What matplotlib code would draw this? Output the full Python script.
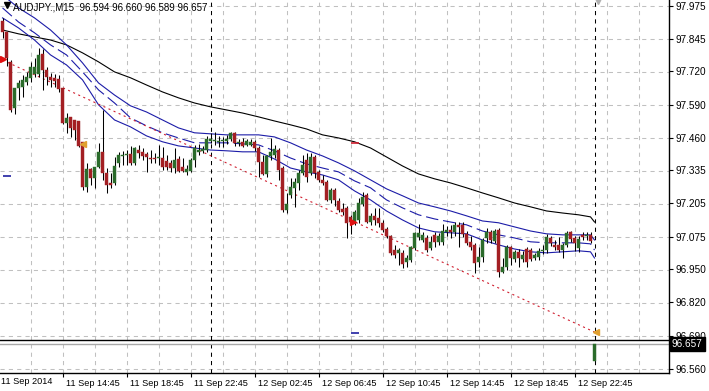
import matplotlib
matplotlib.use("Agg")
import matplotlib.pyplot as plt
import matplotlib.transforms as mtrans
import numpy as np

plt.rcParams['lines.scale_dashes'] = False
plt.rcParams['font.family'] = ['Liberation Sans', 'DejaVu Sans']

symbol = "AUDJPY.,M15"

opens = [97.915, 97.873, 97.756, 97.577, 97.655, 97.659, 97.678, 97.694, 97.709, 97.709,
         97.787, 97.725, 97.697, 97.694, 97.690, 97.655, 97.519, 97.542, 97.530, 97.526,
         97.445, 97.270, 97.340, 97.305, 97.347, 97.406, 97.324, 97.285, 97.285, 97.363,
         97.390, 97.394, 97.398, 97.363, 97.413, 97.406, 97.398, 97.382, 97.382, 97.382,
         97.382, 97.371, 97.363, 97.343, 97.378, 97.347, 97.328, 97.332, 97.375, 97.406,
         97.410, 97.413, 97.448, 97.448, 97.445, 97.448, 97.448, 97.456, 97.480, 97.441,
         97.445, 97.433, 97.433, 97.445, 97.421, 97.367, 97.320, 97.390, 97.394, 97.413,
         97.343, 97.180, 97.238, 97.266, 97.285, 97.324, 97.375, 97.324, 97.386, 97.328,
         97.297, 97.289, 97.219, 97.258, 97.215, 97.184, 97.188, 97.153, 97.133, 97.141,
         97.203, 97.238, 97.133, 97.157, 97.149, 97.129, 97.106, 97.079, 97.024, 97.013,
         97.013, 96.978, 96.985, 97.032, 97.075, 97.063, 97.071, 97.032, 97.083, 97.056,
         97.056, 97.095, 97.102, 97.095, 97.122, 97.122, 97.087, 97.056, 97.044, 96.978,
         96.997, 97.071, 97.095, 97.060, 97.102, 96.939, 96.958, 97.036, 96.989, 97.017,
         96.989, 97.028, 97.024, 96.993, 96.997, 97.021, 97.024, 97.071, 97.044, 97.044,
         97.024, 97.044, 97.095, 97.071, 97.032, 97.083, 97.079, 97.083, 96.594]
highs = [97.927, 97.873, 97.764, 97.655, 97.686, 97.705, 97.717, 97.756, 97.771, 97.810,
         97.806, 97.736, 97.713, 97.709, 97.705, 97.655, 97.557, 97.542, 97.530, 97.526,
         97.445, 97.363, 97.344, 97.347, 97.441, 97.569, 97.344, 97.324, 97.386, 97.406,
         97.410, 97.413, 97.429, 97.425, 97.433, 97.421, 97.406, 97.413, 97.402, 97.433,
         97.425, 97.394, 97.375, 97.421, 97.390, 97.382, 97.355, 97.382, 97.433, 97.437,
         97.429, 97.468, 97.480, 97.484, 97.468, 97.464, 97.472, 97.484, 97.484, 97.456,
         97.460, 97.456, 97.456, 97.452, 97.429, 97.394, 97.394, 97.460, 97.433, 97.421,
         97.351, 97.246, 97.305, 97.305, 97.336, 97.394, 97.402, 97.402, 97.394, 97.336,
         97.316, 97.297, 97.266, 97.266, 97.227, 97.207, 97.196, 97.161, 97.180, 97.227,
         97.250, 97.246, 97.168, 97.188, 97.188, 97.141, 97.114, 97.083, 97.044, 97.032,
         97.024, 97.005, 97.040, 97.094, 97.126, 97.094, 97.083, 97.079, 97.094, 97.091,
         97.126, 97.118, 97.122, 97.133, 97.133, 97.133, 97.098, 97.079, 97.052, 97.036,
         97.071, 97.110, 97.102, 97.106, 97.110, 96.993, 97.044, 97.040, 97.024, 97.028,
         97.021, 97.036, 97.032, 97.013, 97.032, 97.044, 97.087, 97.079, 97.063, 97.075,
         97.052, 97.098, 97.098, 97.079, 97.079, 97.094, 97.094, 97.094, 96.660]
lows = [97.849, 97.740, 97.561, 97.554, 97.608, 97.620, 97.666, 97.678, 97.697, 97.697,
        97.647, 97.666, 97.659, 97.659, 97.639, 97.515, 97.480, 97.464, 97.452, 97.425,
        97.258, 97.250, 97.277, 97.266, 97.344, 97.297, 97.246, 97.266, 97.277, 97.347,
        97.355, 97.355, 97.355, 97.355, 97.382, 97.374, 97.328, 97.363, 97.363, 97.355,
        97.336, 97.336, 97.328, 97.324, 97.328, 97.328, 97.316, 97.328, 97.347, 97.394,
        97.402, 97.406, 97.441, 97.433, 97.425, 97.425, 97.437, 97.448, 97.429, 97.429,
        97.425, 97.429, 97.429, 97.410, 97.308, 97.316, 97.308, 97.375, 97.382, 97.297,
        97.172, 97.168, 97.227, 97.192, 97.258, 97.316, 97.289, 97.316, 97.305, 97.289,
        97.277, 97.215, 97.207, 97.196, 97.172, 97.161, 97.071, 97.087, 97.122, 97.130,
        97.196, 97.130, 97.122, 97.122, 97.114, 97.094, 97.071, 97.005, 96.993, 96.966,
        96.954, 96.958, 96.978, 97.024, 97.063, 97.056, 97.017, 97.024, 97.036, 97.044,
        97.044, 97.079, 97.071, 97.079, 97.036, 97.075, 97.044, 97.024, 96.935, 96.958,
        96.978, 97.052, 97.052, 97.052, 96.919, 96.935, 96.947, 96.966, 96.978, 96.958,
        96.978, 96.958, 96.982, 96.985, 96.985, 97.009, 97.013, 97.040, 97.024, 97.017,
        96.993, 97.036, 97.056, 97.021, 97.017, 97.063, 97.063, 97.052, 96.589]
closes = [97.873, 97.771, 97.569, 97.655, 97.674, 97.686, 97.697, 97.736, 97.736, 97.783,
          97.725, 97.697, 97.686, 97.682, 97.651, 97.519, 97.538, 97.499, 97.491, 97.429,
          97.270, 97.340, 97.305, 97.347, 97.406, 97.324, 97.277, 97.277, 97.351, 97.394,
          97.394, 97.398, 97.363, 97.421, 97.402, 97.390, 97.386, 97.378, 97.378, 97.386,
          97.347, 97.347, 97.343, 97.375, 97.332, 97.332, 97.340, 97.375, 97.421, 97.413,
          97.417, 97.456, 97.456, 97.452, 97.448, 97.452, 97.456, 97.480, 97.441, 97.445,
          97.429, 97.448, 97.445, 97.421, 97.367, 97.320, 97.390, 97.406, 97.417, 97.336,
          97.180, 97.203, 97.270, 97.289, 97.324, 97.355, 97.308, 97.386, 97.324, 97.297,
          97.285, 97.219, 97.258, 97.219, 97.180, 97.172, 97.129, 97.133, 97.172, 97.207,
          97.231, 97.133, 97.157, 97.141, 97.129, 97.102, 97.079, 97.013, 97.005, 97.024,
          96.970, 96.993, 97.036, 97.091, 97.091, 97.083, 97.024, 97.056, 97.056, 97.079,
          97.098, 97.102, 97.095, 97.122, 97.114, 97.087, 97.052, 97.036, 96.974, 96.997,
          97.063, 97.095, 97.063, 97.098, 96.939, 96.958, 97.036, 96.993, 97.017, 96.993,
          97.005, 96.978, 96.989, 97.005, 97.021, 97.024, 97.075, 97.052, 97.036, 97.024,
          97.044, 97.091, 97.067, 97.052, 97.067, 97.075, 97.083, 97.060, 96.657]

# indicator lines sampled at bar indices
line_bars = [0, 4, 8, 12, 16, 20, 24, 28, 32, 36, 40, 44, 48, 52, 56, 60, 64, 68, 72, 76,
             80, 84, 88, 92, 96, 100, 104, 108, 112, 116, 120, 124, 128, 132, 136, 140, 144, 147, 148]
ma_black = [97.880, 97.865, 97.853, 97.841, 97.822, 97.791, 97.756, 97.717, 97.694, 97.666,
            97.639, 97.616, 97.596, 97.581, 97.569, 97.557, 97.542, 97.526, 97.511, 97.495,
            97.472, 97.460, 97.445, 97.421, 97.386, 97.351, 97.320, 97.301, 97.285, 97.266,
            97.246, 97.227, 97.207, 97.192, 97.176, 97.168, 97.161, 97.153, 97.133]
band_upper = [98.016, 97.966, 97.927, 97.880, 97.822, 97.752, 97.674, 97.627, 97.585, 97.561,
              97.530, 97.499, 97.480, 97.476, 97.472, 97.472, 97.472, 97.464, 97.441, 97.413,
              97.390, 97.363, 97.332, 97.297, 97.262, 97.235, 97.207, 97.192, 97.176, 97.157,
              97.137, 97.130, 97.114, 97.098, 97.087, 97.083, 97.083, 97.083, 97.063]
band_mid = [97.966, 97.911, 97.869, 97.822, 97.783, 97.717, 97.647, 97.596, 97.538, 97.507,
            97.480, 97.460, 97.441, 97.441, 97.441, 97.437, 97.433, 97.410, 97.382, 97.359,
            97.343, 97.328, 97.293, 97.266, 97.219, 97.188, 97.161, 97.145, 97.133, 97.122,
            97.098, 97.083, 97.071, 97.056, 97.052, 97.052, 97.052, 97.048, 97.024]
band_lower = [97.927, 97.888, 97.841, 97.783, 97.744, 97.686, 97.589, 97.530, 97.503, 97.468,
              97.445, 97.429, 97.421, 97.413, 97.410, 97.406, 97.406, 97.378, 97.343, 97.328,
              97.316, 97.297, 97.254, 97.219, 97.176, 97.141, 97.110, 97.095, 97.091, 97.087,
              97.063, 97.044, 97.028, 97.017, 97.013, 97.017, 97.021, 97.017, 96.993]

# trend line (bar, price)
trend_bars = [0, 148]
trend_prices = [97.763, 96.705]

# markers
red_arrow_bars = [0, 87.5]
red_arrow_prices = [97.767, 97.133]
orange_tri_bars = [20.1, 148.4]
orange_tri_prices = [97.437, 96.705]
blue_dash_bars = [1.2, 88.0]
blue_dash_prices = [97.312, 96.702]
red_dash_bars = [88.0]
red_dash_prices = [97.441]

bid_price = 96.657
hline_price = 96.674

ytick_vals = [96.560, 96.690, 96.820, 96.950, 97.075, 97.205, 97.335, 97.460, 97.590, 97.720, 97.845, 97.975]
ytick_labels = ["96.560", "96.690", "96.820", "96.950", "97.075", "97.205", "97.335", "97.460", "97.590", "97.720", "97.845", "97.975"]
xtick_bars = [15, 31, 47, 63, 79, 95, 111, 127, 143]
xtick_labels = ["11 Sep 14:45", "11 Sep 18:45", "11 Sep 22:45", "12 Sep 02:45", "12 Sep 06:45",
                "12 Sep 10:45", "12 Sep 14:45", "12 Sep 18:45", "12 Sep 22:45"]
first_label = "11 Sep 2014"
separator_bars = [52, 148]

W, H = 709, 391
fig = plt.figure(figsize=(W / 100, H / 100), dpi=100)
ax = fig.add_axes([0, 18 / H, 669 / W, 373 / H])
ax.set_xlim(-0.625, 166.625)
y_lo, y_hi = 96.5456, 97.9966
ax.set_ylim(y_lo, y_hi)

grid_col = "#c0c0c0"
ygrid = np.linspace(96.560, 97.975, 12)
for gy in ygrid:
    ax.axhline(gy, color=grid_col, lw=0.75, ls=(0, (3, 3)), zorder=0)
for gx in range(7, 167, 8):
    ax.axvline(gx, color=grid_col, lw=0.75, ls=(0, (3, 3)), zorder=0)
for sb in separator_bars:
    ax.axvline(sb, color="black", lw=0.75, ls=(0, (3, 3)), zorder=1)

idx = np.arange(len(opens))
o = np.array(opens); c = np.array(closes); h = np.array(highs); l = np.array(lows)
bull = "#2b6b2b"
bear = "#a31f23"
ax.vlines(idx, l, h, color="black", lw=0.75, zorder=3)
bottoms = np.minimum(o, c)
heights = np.abs(c - o)
cols = [bull if cc > oo else bear for oo, cc in zip(o, c)]
ax.bar(idx, heights, bottom=bottoms, width=0.75, color=cols, edgecolor=cols, linewidth=0.3, zorder=4)
doji = heights < 0.002
ax.hlines(o[doji], idx[doji] - 0.4, idx[doji] + 0.4, color="black", lw=0.75, zorder=5)

# indicator lines
blue = "#1c1ca8"
ax.plot(line_bars, ma_black, color="black", lw=0.8, zorder=2)
ax.plot(line_bars, band_upper, color=blue, lw=0.8, zorder=2)
ax.plot(line_bars, band_mid, color=blue, lw=0.8, ls=(0, (9, 3.5)), zorder=2)
ax.plot(line_bars, band_lower, color=blue, lw=0.8, zorder=2)

# trend line
ax.plot(trend_bars, trend_prices, color="#d02030", lw=0.8, ls=(0, (1.5, 2.5)), zorder=2)

# markers
ax.plot(red_arrow_bars, red_arrow_prices, ls="none", marker=">", ms=4.5, color="#e01010", zorder=6)
ax.plot(orange_tri_bars, orange_tri_prices, ls="none", marker="<", ms=4.5, color="#e0a030", zorder=6)
ax.plot(blue_dash_bars, blue_dash_prices, ls="none", marker="_", ms=6, mew=1.2, color="#2020a0", zorder=6)
ax.plot(red_dash_bars, red_dash_prices, ls="none", marker="_", ms=6, mew=1.2, color="#d02030", zorder=6)

# bid / horizontal lines
ax.axhline(bid_price, color="#a8a8a8", lw=1.0, zorder=2)
ax.axhline(hline_price, color="black", lw=1.0, zorder=2)

# axes styling
ax.spines["top"].set_visible(False)
ax.spines["left"].set_visible(False)
for s in ["right", "bottom"]:
    ax.spines[s].set_linewidth(1.0)
ax.yaxis.tick_right()
ax.set_yticks(ytick_vals)
ax.set_yticklabels(ytick_labels)
ax.tick_params(axis="y", direction="out", length=3, width=0.8, pad=2, labelsize=7.2)
ax.set_xticks(xtick_bars)
ax.set_xticklabels(xtick_labels, ha="left")
ax.tick_params(axis="x", direction="out", length=3, width=0.8, pad=1.5, labelsize=6.6)
offset = mtrans.ScaledTranslation(3 / 100, 0, fig.dpi_scale_trans)
for lab in ax.get_xticklabels():
    lab.set_transform(lab.get_transform() + offset)
fig.text(1 / W, 1 - 382 / H, first_label, fontsize=6.6, va="center", ha="left")

# price box (drawn over the covered tick label)
fig.text(672 / W, 1 - 344 / H, f"{bid_price:.3f}", fontsize=7.2, color="white", va="center", ha="left",
         bbox=dict(boxstyle="square,pad=0.2", fc="black", ec="black"), zorder=10)

# title
fig.text(13 / W, 1 - 7 / H, f"{symbol}  {opens[-1]:.3f} {highs[-1]:.3f} {lows[-1]:.3f} {closes[-1]:.3f}",
         fontsize=7, va="center", ha="left")
ax.plot([1.2], [y_hi - 0.02], marker="v", ms=4, color="black", clip_on=False, zorder=7)
ax.plot([148.8], [y_hi - 0.004], marker="v", ms=5, color="#b0b0b0", clip_on=False, zorder=7)

fig.savefig("out.png", dpi=100)
